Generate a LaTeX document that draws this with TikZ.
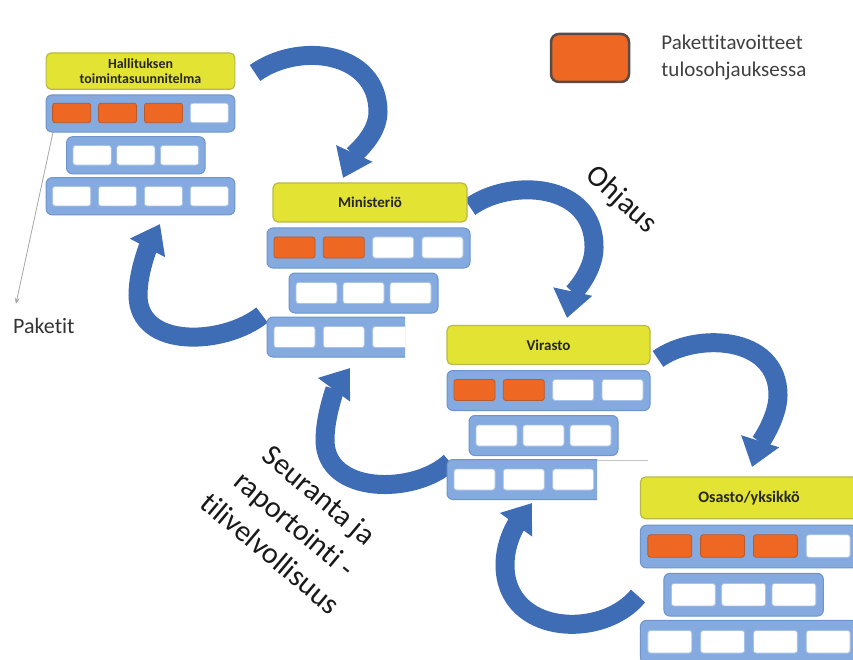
\documentclass[tikz,border=0pt]{standalone}
\usepackage{fontspec}
\setmainfont{Carlito}[Ligatures=NoCommon]
\usetikzlibrary{arrows.meta,positioning}

\begin{document}
\begin{tikzpicture}[x=1pt, y=-1pt,
  titlebox/.style={draw=titleedge, fill=titleyellow, rounded corners=5pt, line width=1.2pt,
    minimum width=203pt, minimum height=39pt, inner sep=0pt, align=center,
    font=\fontsize{15}{17}\selectfont\bfseries, text=black!85},
  band/.style={draw=bandedge, fill=bandblue, rounded corners=6pt, line width=1pt},
  cell/.style={draw=celledge, fill=white, rounded corners=2.5pt, line width=0.8pt},
  goal/.style={cell, draw=goaledge, fill=goalorange},
  flow/.style={draw=flowblue, line width=19pt, -{Triangle[length=27pt, width=38pt]}},
  pointer/.style={draw=gray!70, line width=0.8pt, -{Stealth[length=6pt, width=5pt]}, shorten >=14pt},
  bigword/.style={font=\fontsize{30}{38}\selectfont, text=black!90, align=center}
]
\definecolor{titleyellow}{HTML}{E3E333}
\definecolor{titleedge}{HTML}{B9B84A}
\definecolor{bandblue}{HTML}{84AAE0}
\definecolor{bandedge}{HTML}{6D94CC}
\definecolor{celledge}{HTML}{A9C3E6}
\definecolor{goalorange}{HTML}{EE6824}
\definecolor{goaledge}{HTML}{B85A2A}
\definecolor{flowblue}{HTML}{3E6CB5}
\definecolor{legendedge}{HTML}{5B4B45}
\useasboundingbox (0,0) rectangle (853,660);

% ohjaus, downwards
\coordinate (a1s) at (255,73);  \coordinate (a1m) at (378,112); \coordinate (a1e) at (343,178);
\coordinate (a2s) at (470,207); \coordinate (a2m) at (594,248); \coordinate (a2e) at (567,318);
\coordinate (a3s) at (658,359); \coordinate (a3m) at (778,395); \coordinate (a3e) at (752,467);
\draw[flow] (a1s) .. controls (300,41) and (378,52) .. (a1m) .. controls (378,135) and (354,154) .. (a1e);
\draw[flow] (a2s) .. controls (510,178) and (595,182) .. (a2m) .. controls (594,272) and (572,295) .. (a2e);
\draw[flow] (a3s) .. controls (695,332) and (778,335) .. (a3m) .. controls (778,418) and (759,445) .. (a3e);
% seuranta, upwards
\coordinate (b1s) at (262,315); \coordinate (b1m) at (138,295); \coordinate (b1e) at (160,224);
\coordinate (b2s) at (450,462); \coordinate (b2m) at (325,440); \coordinate (b2e) at (350,368);
\coordinate (b3s) at (638,596); \coordinate (b3m) at (505,565); \coordinate (b3e) at (532,503);
\draw[flow] (b1s) .. controls (225,345) and (138,350) .. (b1m) .. controls (138,270) and (150,243) .. (b1e);
\draw[flow] (b2s) .. controls (415,495) and (325,495) .. (b2m) .. controls (325,415) and (336,387) .. (b2e);
\draw[flow] (b3s) .. controls (602,640) and (505,635) .. (b3m) .. controls (505,540) and (518,522) .. (b3e);

% Hallituksen toimintasuunnitelma
\begin{scope}[shift={(140.5,53)}, scale=0.93, transform shape]
  \node[titlebox] (hal) at (0,19.5) {Hallituksen\\toimintasuunnitelma};
  \draw[band] (-101.5,45) rectangle (101.5,85);
  \foreach \x/\k in {-74/goal, -24.7/goal, 24.7/goal, 74/cell}
    \draw[\k] (\x-20.5,54) rectangle (\x+20.5,75);
  \draw[band] (-79.5,90) rectangle (69.5,130);
  \foreach \x in {-52,-5,42}
    \draw[cell] (\x-20.5,99.5) rectangle (\x+20.5,120.5);
  \draw[band] (-101.5,134) rectangle (101.5,174);
  \foreach \x in {-74,-24.7,24.7,74}
    \draw[cell] (\x-20.5,143.5) rectangle (\x+20.5,164.5);
  \coordinate (halpak) at (-94,85);
\end{scope}

% Ministerio
\begin{scope}[shift={(368.5,183)}]
  \node[titlebox, minimum width=194pt] (min) at (1.5,19.5) {Ministeriö};
  \draw[band] (-101.5,45) rectangle (101.5,85);
  \foreach \x/\k in {-74/goal, -24.7/goal, 24.7/cell, 74/cell}
    \draw[\k] (\x-20.5,54) rectangle (\x+20.5,75);
  \draw[band] (-79.5,90) rectangle (69.5,130);
  \foreach \x in {-52,-5,42}
    \draw[cell] (\x-20.5,99.5) rectangle (\x+20.5,120.5);
  \begin{scope}
    \clip (-110,128) rectangle (36.5,180);
    \draw[band] (-101.5,134) rectangle (101.5,174);
    \foreach \x in {-74,-24.7,24.7,74}
      \draw[cell] (\x-20.5,143.5) rectangle (\x+20.5,164.5);
  \end{scope}
\end{scope}

% Virasto
\begin{scope}[shift={(548.5,325.5)}]
  \node[titlebox] (vir) at (0,19.5) {Virasto};
  \draw[band] (-101.5,45) rectangle (101.5,85);
  \foreach \x/\k in {-74/goal, -24.7/goal, 24.7/cell, 74/cell}
    \draw[\k] (\x-20.5,54) rectangle (\x+20.5,75);
  \draw[band] (-79.5,90) rectangle (69.5,130);
  \foreach \x in {-52,-5,42}
    \draw[cell] (\x-20.5,99.5) rectangle (\x+20.5,120.5);
  \begin{scope}
    \clip (-110,128) rectangle (48.5,180);
    \draw[band] (-101.5,134) rectangle (101.5,174);
    \foreach \x in {-74,-24.7,24.7,74}
      \draw[cell] (\x-20.5,143.5) rectangle (\x+20.5,164.5);
  \end{scope}
  \draw[gray!45, line width=1.2pt] (48.5,135) -- (99.5,135);
\end{scope}

% Osasto/yksikko
\begin{scope}[shift={(749,477)}, scale=1.07, transform shape]
  \node[titlebox] (osa) at (0,19.5) {Osasto/yksikkö};
  \draw[band] (-101.5,45) rectangle (101.5,85);
  \foreach \x/\k in {-74/goal, -24.7/goal, 24.7/goal, 74/cell}
    \draw[\k] (\x-20.5,54) rectangle (\x+20.5,75);
  \draw[band] (-79.5,90) rectangle (69.5,130);
  \foreach \x in {-52,-5,42}
    \draw[cell] (\x-20.5,99.5) rectangle (\x+20.5,120.5);
  \draw[band] (-101.5,134) rectangle (101.5,174);
  \foreach \x in {-74,-24.7,24.7,74}
    \draw[cell] (\x-20.5,143.5) rectangle (\x+20.5,164.5);
\end{scope}

% legend
\node[draw=legendedge, fill=goalorange, line width=2.5pt, rounded corners=8pt,
  minimum width=78pt, minimum height=48pt] (leg) at (590,58) {};
\node[right=31pt of leg, align=left, inner sep=0pt, text=black!75,
  font=\fontsize{21}{27}\selectfont] (legtxt) {Pakettitavoitteet\\tulosohjauksessa};

% labels
\node[anchor=base west, inner sep=0pt, text=black!80, font=\fontsize{22}{26}\selectfont] (pak) at (13,333) {Paketit};
\draw[pointer] (halpak) -- (pak.north west);
\node[bigword, rotate=-42] (ohj) at (621,200) {Ohjaus};
\node[bigword, rotate=-40] (seu) at (295,524) {Seuranta ja\\raportointi -\\tilivelvollisuus};
\end{tikzpicture}
\end{document}
